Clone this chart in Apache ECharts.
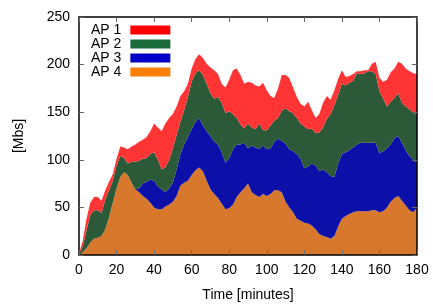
<!DOCTYPE html>
<html>
<head>
<meta charset="utf-8">
<script src="https://cdn.jsdelivr.net/npm/echarts@6/dist/echarts.min.js"></script>
<style>
  html, body { margin: 0; padding: 0; background: #fff; }
  #chart { width: 433px; height: 307px; }
</style>
</head>
<body>
<div id="chart"></div>
<script>
// time in minutes, one sample every 2 minutes
const times = [0, 2, 4, 6, 8, 10, 12, 14, 16, 18, 20, 22, 24, 26, 28, 30, 32, 34, 36, 38,
  40, 42, 44, 46, 48, 50, 52, 54, 56, 58, 60, 62, 64, 66, 68, 70, 72, 74, 76, 78,
  80, 82, 84, 86, 88, 90, 92, 94, 96, 98, 100, 102, 104, 106, 108, 110, 112, 114, 116, 118,
  120, 122, 124, 126, 128, 130, 132, 134, 136, 138, 140, 142, 144, 146, 148, 150, 152, 154, 156, 158,
  160, 162, 164, 166, 168, 170, 172, 174, 176, 178, 180];

const ap1 = [1, 6, 12, 13, 14, 14, 13, 10, 9, 7, 7, 10, 11, 15, 16, 18, 20, 20, 22, 24,
  30, 34, 40, 46, 44, 36, 30, 27, 20, 14, 14, 15, 17, 18, 21, 27, 30, 24, 20, 27,
  33, 46, 52, 52, 47, 44, 47, 46, 39, 50, 42, 31, 24, 31, 37, 35, 35, 27, 22, 21,
  21, 29, 19, 16, 19, 26, 24, 15, 16, 17, 14, 9, 7, 7, 2, 3, 3, 1, 8, 13,
  14, 18, 28, 31, 31, 33, 41, 40, 40, 41, 43];

const ap2 = [1, 6, 19, 29, 30, 29, 24, 31, 28, 23, 24, 22, 15, 12, 22, 29, 29, 26, 25, 27,
  30, 28, 21, 26, 30, 36, 36, 34, 36, 42, 50, 51, 50, 53, 50, 45, 45, 50, 52, 52,
  49, 37, 28, 21, 15, 26, 19, 19, 27, 16, 20, 24, 22, 22, 32, 37, 40, 40, 38, 37,
  44, 39, 37, 34, 41, 44, 56, 65, 75, 72, 74, 70, 71, 70, 75, 72, 73, 75, 75, 72,
  65, 55, 44, 45, 42, 45, 42, 46, 49, 50, 51];

const ap3 = [0, 0, 0, 0, 0, 0, 0, 0, 0, 0, 0, 0, 0, 0, 0, 0, 4, 13, 18, 24,
  28, 24, 21, 15, 17, 20, 28, 33, 40, 46, 48, 51, 52, 48, 52, 56, 55, 56, 54, 49,
  53, 58, 55, 50, 48, 37, 49, 50, 50, 51, 49, 48, 51, 54, 54, 61, 61, 64, 68, 65,
  57, 60, 65, 67, 66, 70, 68, 66, 62, 66, 68, 67, 67, 68, 70, 72, 72, 72, 71, 71,
  62, 63, 62, 60, 63, 63, 61, 58, 57, 55, 46];

const ap4 = [0, 3, 7, 13, 17, 18, 20, 27, 40, 55, 70, 82, 87, 84, 76, 69, 66, 62, 59, 55,
  50, 48, 48, 51, 53, 56, 62, 73, 76, 78, 84, 89, 92, 88, 78, 69, 64, 60, 54, 48,
  49, 53, 61, 66, 70, 75, 66, 63, 61, 64, 62, 64, 68, 68, 66, 56, 50, 45, 38, 36,
  34, 33, 31, 27, 22, 20, 19, 17, 20, 30, 38, 41, 43, 45, 46, 46, 46, 46, 47, 47,
  45, 46, 50, 56, 60, 62, 57, 52, 47, 45, 50];

// a tick every 20 minutes = every 10th sample
const xTickEvery = 9;
const yTicks = { min: 0, max: 250, interval: 50 };

const chart = echarts.init(document.getElementById('chart'), null, { renderer: 'canvas' });

const font = '"Liberation Sans", Arial, Helvetica, sans-serif';

function makeSeries(name, values, color) {
  return {
    name: name,
    type: 'line',
    stack: 'total',
    data: values,
    showSymbol: false,
    symbol: 'none',
    lineStyle: { width: 0 },
    itemStyle: { color: color },
    areaStyle: { color: color, opacity: 1 },
    emphasis: { disabled: true },
    z: 2
  };
}

const axisLine = { show: true, onZero: false, lineStyle: { color: '#000', width: 1.5 } };
const axisTick = { show: true, inside: true, length: 5, lineStyle: { color: '#666', width: 1 } };

const xCommon = {
  type: 'category',
  data: times,
  boundaryGap: false,
  splitLine: { show: false },
  axisLine: axisLine,
  axisTick: Object.assign({ interval: xTickEvery }, axisTick),
  z: 5
};

const yCommon = Object.assign({
  type: 'value',
  splitLine: { show: false },
  axisLine: axisLine,
  axisTick: axisTick,
  z: 5
}, yTicks);

chart.setOption({
  animation: false,
  backgroundColor: '#fff',
  textStyle: { fontFamily: font },
  grid: { left: 79, right: 16, top: 17, bottom: 50, containLabel: false },
  legend: {
    orient: 'vertical',
    left: 91,
    top: 23,
    padding: 0,
    align: 'right',
    itemWidth: 40,
    itemHeight: 9,
    itemGap: 0,
    icon: 'rect',
    textStyle: { fontSize: 14, color: '#000', fontFamily: font, padding: [0, 4, 0, 0] },
    data: [
      { name: 'AP 1', itemStyle: { color: '#ff0000' } },
      { name: 'AP 2', itemStyle: { color: '#1a6b3a' } },
      { name: 'AP 3', itemStyle: { color: '#0000c8' } },
      { name: 'AP 4', itemStyle: { color: '#ff8000' } }
    ]
  },
  xAxis: [
    Object.assign({}, xCommon, {
      position: 'bottom',
      name: 'Time [minutes]',
      nameLocation: 'middle',
      nameGap: 33,
      nameTextStyle: { fontSize: 14, color: '#000', fontFamily: font },
      axisLabel: { interval: xTickEvery, fontSize: 14, color: '#000', margin: 8, fontFamily: font }
    }),
    Object.assign({}, xCommon, {
      position: 'top',
      axisLabel: { show: false }
    })
  ],
  yAxis: [
    Object.assign({}, yCommon, {
      position: 'left',
      name: '[Mbs]',
      nameLocation: 'middle',
      nameGap: 53,
      nameTextStyle: { fontSize: 14, color: '#000', fontFamily: font },
      axisLabel: { fontSize: 14, color: '#000', margin: 9, fontFamily: font }
    }),
    Object.assign({}, yCommon, {
      position: 'right',
      axisLabel: { show: false }
    })
  ],
  series: [
    makeSeries('AP 4', ap4, '#d8782c'),
    makeSeries('AP 3', ap3, '#0c10a8'),
    makeSeries('AP 2', ap2, '#2c5a38'),
    makeSeries('AP 1', ap1, '#ff3535')
  ]
});
</script>
</body>
</html>
